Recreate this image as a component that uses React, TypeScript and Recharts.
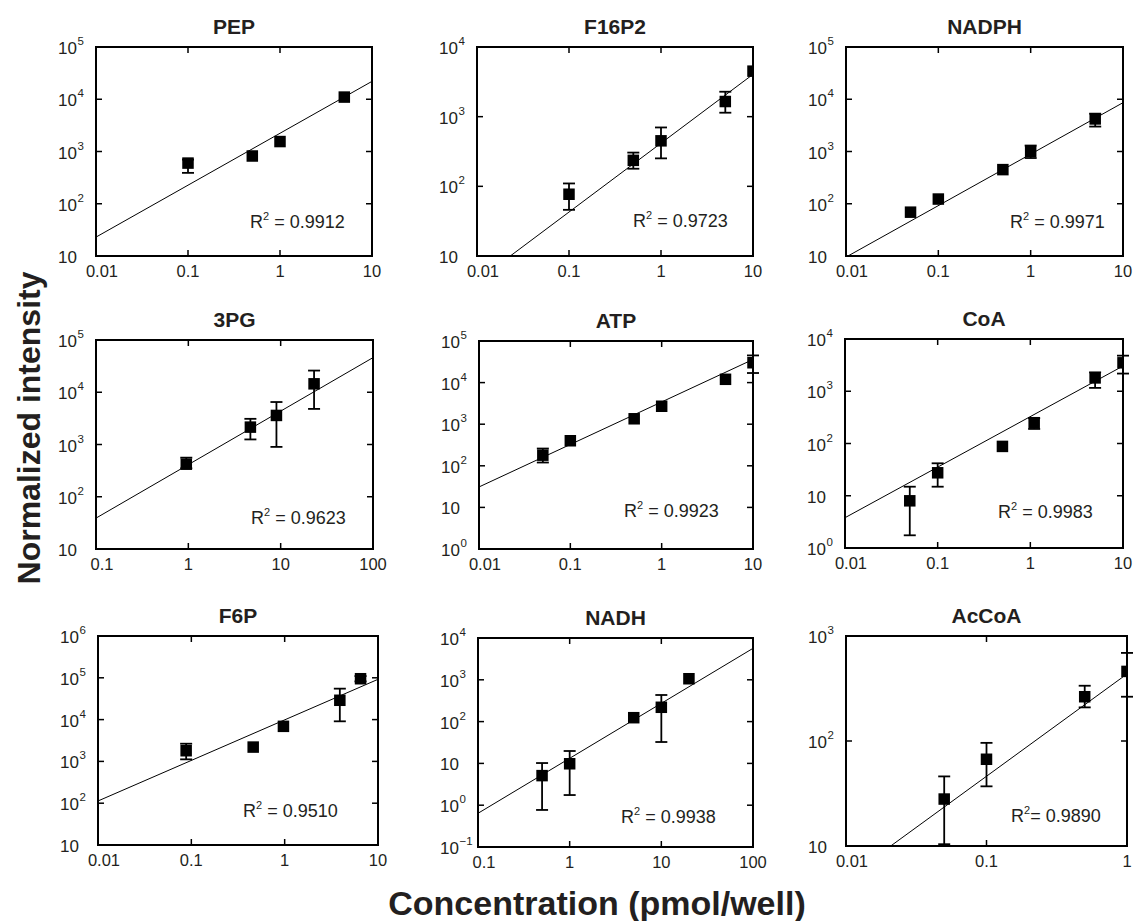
import React from "react";
import { ScatterChart, Scatter, XAxis, YAxis, ErrorBar } from "recharts";

type Pt = { x: number; y: number; lo?: number; hi?: number };
type XY = { x: number; y: number };

const INK = "#231f20";
const FONT = '"Liberation Sans", Arial, Helvetica, sans-serif';

// ---- data ----
const titles = ["PEP", "F16P2", "NADPH", "3PG", "ATP", "CoA", "F6P", "NADH", "AcCoA"];
const r2Labels = [" = 0.9912", " = 0.9723", " = 0.9971", " = 0.9623", " = 0.9923", " = 0.9983", " = 0.9510", " = 0.9938", "= 0.9890"];

const xDomains: [number, number][] = [
  [0.01, 10], [0.01, 10], [0.01, 10],
  [0.1, 100], [0.01, 10], [0.01, 10],
  [0.01, 10], [0.1, 100], [0.01, 1],
];
const yDomains: [number, number][] = [
  [10, 1e5], [10, 1e4], [10, 1e5],
  [10, 1e5], [1, 1e5], [1, 1e4],
  [10, 1e6], [0.1, 1e4], [10, 1e3],
];
const xTicks = [
  [0.01, 0.1, 1, 10], [0.01, 0.1, 1, 10], [0.01, 0.1, 1, 10],
  [0.1, 1, 10, 100], [0.01, 0.1, 1, 10], [0.01, 0.1, 1, 10],
  [0.01, 0.1, 1, 10], [0.1, 1, 10, 100], [0.01, 0.1, 1],
];
const yTicks = [
  [10, 100, 1e3, 1e4, 1e5], [10, 100, 1e3, 1e4], [10, 100, 1e3, 1e4, 1e5],
  [10, 100, 1e3, 1e4, 1e5], [1, 10, 100, 1e3, 1e4, 1e5], [1, 10, 100, 1e3, 1e4],
  [10, 100, 1e3, 1e4, 1e5, 1e6], [0.1, 1, 10, 100, 1e3, 1e4], [10, 100, 1e3],
];

const pepData: Pt[] = [
  { x: 0.1, y: 600, lo: 390, hi: 700 },
  { x: 0.5, y: 820 },
  { x: 1, y: 1550 },
  { x: 5, y: 11000 },
];
const f16p2Data: Pt[] = [
  { x: 0.1, y: 77, lo: 46, hi: 110 },
  { x: 0.5, y: 236, lo: 179, hi: 305 },
  { x: 1, y: 450, lo: 252, hi: 700 },
  { x: 5, y: 1650, lo: 1140, hi: 2280 },
  { x: 10, y: 4500 },
];
const nadphData: Pt[] = [
  { x: 0.05, y: 69 },
  { x: 0.1, y: 123 },
  { x: 0.5, y: 450 },
  { x: 1, y: 1000, lo: 750, hi: 1300 },
  { x: 5, y: 4200, lo: 3000, hi: 5300 },
];
const pg3Data: Pt[] = [
  { x: 0.95, y: 420, lo: 350, hi: 560 },
  { x: 4.7, y: 2150, lo: 1250, hi: 3100 },
  { x: 9, y: 3600, lo: 900, hi: 6500 },
  { x: 23, y: 14500, lo: 4800, hi: 26000 },
];
const atpData: Pt[] = [
  { x: 0.05, y: 180, lo: 120, hi: 260 },
  { x: 0.1, y: 400 },
  { x: 0.5, y: 1350 },
  { x: 1, y: 2700 },
  { x: 5, y: 12000 },
  { x: 10, y: 30000, lo: 17000, hi: 45000 },
];
const coaData: Pt[] = [
  { x: 0.05, y: 8, lo: 1.75, hi: 14.9 },
  { x: 0.1, y: 27.5, lo: 14.9, hi: 41.8 },
  { x: 0.5, y: 88 },
  { x: 1.1, y: 250, lo: 190, hi: 305 },
  { x: 5, y: 1800, lo: 1160, hi: 2300 },
  { x: 10, y: 3500, lo: 2180, hi: 4800 },
];
const f6pData: Pt[] = [
  { x: 0.088, y: 1800, lo: 1120, hi: 2650 },
  { x: 0.46, y: 2200 },
  { x: 0.97, y: 6900 },
  { x: 3.9, y: 29000, lo: 9100, hi: 55000 },
  { x: 6.5, y: 95000, lo: 82000, hi: 110000 },
];
const nadhData: Pt[] = [
  { x: 0.5, y: 5.1, lo: 0.77, hi: 10.2 },
  { x: 1, y: 9.8, lo: 1.75, hi: 19.8 },
  { x: 5, y: 124 },
  { x: 10, y: 220, lo: 32.5, hi: 433 },
  { x: 20, y: 1060 },
];
const accoaData: Pt[] = [
  { x: 0.05, y: 28, lo: 10.4, hi: 46 },
  { x: 0.1, y: 67, lo: 37, hi: 96 },
  { x: 0.5, y: 264, lo: 209, hi: 336 },
  { x: 1, y: 460, lo: 264, hi: 690 },
];

const pepFit: XY[] = [{ x: 0.01, y: 23 }, { x: 10, y: 22000 }];
const f16p2Fit: XY[] = [{ x: 0.023, y: 10 }, { x: 10, y: 4050 }];
const nadphFit: XY[] = [{ x: 0.0105, y: 10 }, { x: 10, y: 8600 }];
const pg3Fit: XY[] = [{ x: 0.1, y: 39 }, { x: 100, y: 46000 }];
const atpFit: XY[] = [{ x: 0.01, y: 31 }, { x: 10, y: 36000 }];
const coaFit: XY[] = [{ x: 0.01, y: 3.8 }, { x: 10, y: 3040 }];
const f6pFit: XY[] = [{ x: 0.01, y: 113 }, { x: 10, y: 92000 }];
const nadhFit: XY[] = [{ x: 0.1, y: 0.64 }, { x: 100, y: 5660 }];
const accoaFit: XY[] = [{ x: 0.0208, y: 10 }, { x: 1, y: 435 }];

const pointSets = [pepData, f16p2Data, nadphData, pg3Data, atpData, coaData, f6pData, nadhData, accoaData];
const fitSets = [pepFit, f16p2Fit, nadphFit, pg3Fit, atpFit, coaFit, f6pFit, nadhFit, accoaFit];

// ---- layout ----
// plot box per panel: left, top, width, height
const panelBoxes = [
  [96, 47, 276, 209], [477, 47, 276, 209], [846, 47, 277, 209],
  [96, 340, 277, 209], [479, 341, 274, 208], [845, 339, 278, 209],
  [98, 636, 280, 209], [478, 638, 275, 209], [846, 636, 281, 210],
];
const r2Pos = [
  [250, 228], [633, 227], [1010, 228],
  [251, 524], [624, 517], [998, 518],
  [243, 817], [621, 823], [1011, 822],
];

const ML = 70, MR = 40, MT = 30, MB = 40;
const TICK = 6;

const BottomTick = (p: any) => (
  <g>
    <line x1={p.x} y1={p.y} x2={p.x} y2={p.y - TICK} stroke="#000" strokeWidth={1.5} />
    <text x={p.x + (p.index === 0 ? 6 : 0)} y={p.y + 21} textAnchor="middle" fontSize={16.5} fill={INK} fontFamily={FONT}>
      {String(p.payload.value)}
    </text>
  </g>
);
const TopTick = (p: any) => (
  <line x1={p.x} y1={p.y} x2={p.x} y2={p.y + TICK} stroke="#000" strokeWidth={1.5} />
);
const RightTick = (p: any) => (
  <line x1={p.x} y1={p.y} x2={p.x - TICK} y2={p.y} stroke="#000" strokeWidth={1.5} />
);
const LeftTick = (p: any) => {
  const e = Math.round(Math.log10(p.payload.value));
  const base = p.x - 19;
  return (
    <g>
      <line x1={p.x} y1={p.y} x2={p.x + TICK} y2={p.y} stroke="#000" strokeWidth={1.5} />
      <text x={base} y={p.y + 7} textAnchor="end" fontSize={17} fill={INK} fontFamily={FONT}>10</text>
      {e !== 1 && (
        <text x={base + 0.5} y={p.y - 2} fontSize={11.5} fill={INK} fontFamily={FONT}>
          {e < 0 ? "\u2212" + -e : String(e)}
        </text>
      )}
    </g>
  );
};

const Square = (p: any) => <rect x={p.cx - 5.75} y={p.cy - 5.75} width={11.5} height={11.5} fill="#000" />;

const frame = { stroke: "#000", strokeWidth: 2, strokeLinecap: "square" as const };

function Panel({ i }: { i: number }) {
  const [bx, by, bw, bh] = panelBoxes[i];
  const pts = pointSets[i].map((p) => ({
    x: p.x,
    y: p.y,
    err: p.lo != null && p.hi != null ? [p.y - p.lo, p.hi - p.y] : undefined,
  }));
  const common = {
    type: "number" as const,
    scale: "log" as const,
    allowDataOverflow: true,
    tickSize: 0,
    tickMargin: 0,
    tickLine: false,
    interval: 0 as const,
    axisLine: frame,
  };
  return (
    <div style={{ position: "absolute", left: bx - ML, top: by - MT }}>
      <ScatterChart
        width={bw + ML + MR}
        height={bh + MT + MB}
        margin={{ top: MT - 1, right: MR - 1, bottom: MB - 1, left: ML - 1 }}
      >
        <XAxis {...common} xAxisId="b" dataKey="x" orientation="bottom" height={1} domain={xDomains[i]} ticks={xTicks[i]} tick={(p: any) => <BottomTick {...p} />} />
        <XAxis {...common} xAxisId="t" dataKey="x" orientation="top" height={1} domain={xDomains[i]} ticks={xTicks[i]} tick={(p: any) => <TopTick {...p} />} />
        <YAxis {...common} yAxisId="l" dataKey="y" orientation="left" width={1} domain={yDomains[i]} ticks={yTicks[i]} tick={(p: any) => <LeftTick {...p} />} />
        <YAxis {...common} yAxisId="r" dataKey="y" orientation="right" width={1} domain={yDomains[i]} ticks={yTicks[i]} tick={(p: any) => <RightTick {...p} />} />
        <Scatter
          xAxisId="b"
          yAxisId="l"
          data={fitSets[i]}
          fill="#000"
          line={{ stroke: "#000", strokeWidth: 1 }}
          shape={() => <g />}
          isAnimationActive={false}
        />
        <Scatter xAxisId="b" yAxisId="l" data={pts} fill="#000" shape={Square} isAnimationActive={false}>
          <ErrorBar dataKey="err" direction="y" width={6} stroke="#000" strokeWidth={1.8} />
        </Scatter>
      </ScatterChart>
    </div>
  );
}

export default function App() {
  return (
    <div style={{ position: "absolute", left: 0, top: 0, width: 1136, height: 921, background: "#fff", fontFamily: FONT }}>
      {titles.map((_, i) => (
        <Panel key={i} i={i} />
      ))}
      <svg width={1136} height={921} style={{ position: "absolute", left: 0, top: 0, pointerEvents: "none" }}>
        {titles.map((t, i) => {
          const [bx, by, bw] = panelBoxes[i];
          return (
            <text key={"t" + i} x={bx + bw / 2} y={by - 13} textAnchor="middle" fontSize={21} fontWeight="bold" fill={INK} fontFamily={FONT}>
              {t}
            </text>
          );
        })}
        {r2Labels.map((lab, i) => (
          <text key={"r" + i} x={r2Pos[i][0]} y={r2Pos[i][1]} fontSize={18} fill={INK} fontFamily={FONT}>
            R<tspan dy={-8} fontSize={11}>2</tspan>
            <tspan dy={8}>{lab}</tspan>
          </text>
        ))}
        <text x={29} y={428} transform="rotate(-90 29 428)" textAnchor="middle" dominantBaseline="central" fontSize={32} fontWeight="bold" fill={INK} fontFamily={FONT}>
          Normalized intensity
        </text>
        <text x={597} y={915} textAnchor="middle" fontSize={34} fontWeight="bold" fill={INK} fontFamily={FONT}>
          Concentration (pmol/well)
        </text>
      </svg>
    </div>
  );
}
